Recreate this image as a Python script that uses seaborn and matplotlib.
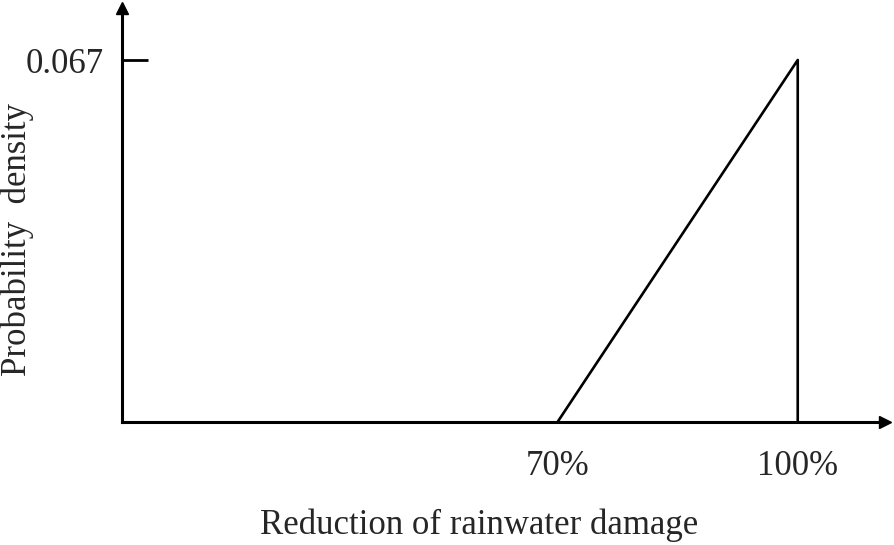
import matplotlib
matplotlib.use("Agg")
import matplotlib.pyplot as plt
import seaborn as sns
import pandas as pd

# Data
x_pct = [70, 100, 100]
density = [0.0, 0.067, 0.0]
xtick_vals = [70, 100]
xtick_labels = ["70%", "100%"]
ytick_vals = [0.067]
ytick_labels = ["0.067"]

sns.set_theme(style="white")
plt.rcParams['font.family'] = ['Liberation Serif', 'DejaVu Serif']

fig = plt.figure(figsize=(8.94, 5.45), dpi=100)
ax = fig.add_axes([122/894, (545-422)/545, (885-122)/894, (422-8)/545])

df = pd.DataFrame({"x": x_pct, "y": density})
sns.lineplot(data=df, x="x", y="y", sort=False, estimator=None, color="black",
             linewidth=1.9, ax=ax)

ax.set_xlim(15.6, 110.9)
ax.set_ylim(0, 0.067 * (414 / 362))

for s in ["top", "right"]:
    ax.spines[s].set_visible(False)
for s in ["left", "bottom"]:
    ax.spines[s].set_color("black")
    ax.spines[s].set_linewidth(2.2)

# arrowheads
ax.plot(1, 0, marker=">", color="black", markersize=9, transform=ax.transAxes, clip_on=False)
ax.plot(0, 1, marker="^", color="black", markersize=9, transform=ax.transAxes, clip_on=False)

ax.set_xticks(xtick_vals)
ax.set_xticklabels(xtick_labels, fontsize=25)
ax.set_yticks(ytick_vals)
ax.set_yticklabels(ytick_labels, fontsize=25)
ax.tick_params(axis="x", length=0, pad=20)
ax.tick_params(axis="y", direction="in", length=19, width=2, color="black", pad=13,
               left=True)

ax.set_xlabel("Reduction of rainwater damage", fontsize=25)
ax.xaxis.set_label_coords((479 - 122) / 763, -(508 - 422) / 414)
ax.set_ylabel("Probability  density", fontsize=25)
ax.yaxis.set_label_coords((34 - 122) / 763, (422 - 240) / 414)
ax.grid(False)

fig.savefig("out.png", dpi=100)
